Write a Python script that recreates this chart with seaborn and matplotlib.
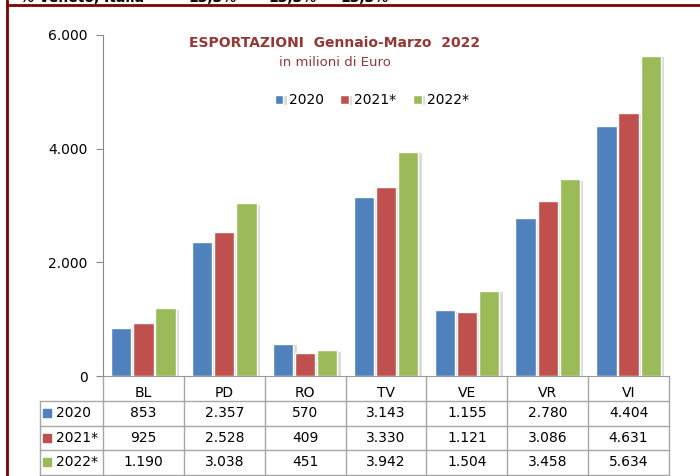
import matplotlib
matplotlib.use("Agg")
import matplotlib.pyplot as plt
import matplotlib.patheffects as pe
from matplotlib.ticker import FuncFormatter
import pandas as pd
import seaborn as sns

# Dati
province = ["BL", "PD", "RO", "TV", "VE", "VR", "VI"]
anni = ["2020", "2021*", "2022*"]
export_2020 = [853, 2357, 570, 3143, 1155, 2780, 4404]
export_2021 = [925, 2528, 409, 3330, 1121, 3086, 4631]
export_2022 = [1190, 3038, 451, 3942, 1504, 3458, 5634]
colori = ["#4F81BD", "#C0504D", "#9BBB59"]

serie = [export_2020, export_2021, export_2022]
df = pd.DataFrame({
    "provincia": province * 3,
    "anno": [a for a in anni for _ in province],
    "valore": export_2020 + export_2021 + export_2022,
})


def fmt_it(v):
    return f"{v:,.0f}".replace(",", ".")


W, H = 700, 476
sns.set_style("white")
plt.rcParams["font.family"] = ["DejaVu Sans"]
plt.rcParams["text.color"] = "black"
plt.rcParams["xtick.color"] = "black"
plt.rcParams["ytick.color"] = "black"

fig = plt.figure(figsize=(W / 100, H / 100), dpi=100)
ax = fig.add_axes([103 / W, 1 - 376 / H, 566 / W, 341 / H])

sns.barplot(data=df, x="provincia", y="valore", hue="anno", order=province,
            hue_order=anni, palette=colori, width=0.82, gap=0.08, ax=ax,
            saturation=1, legend=True)

for bar in ax.patches:
    bar.set_path_effects([pe.SimplePatchShadow(offset=(2.5, -1), shadow_rgbFace="#999999", alpha=0.35),
                          pe.Normal()])

ax.set_xlim(-0.5, 6.5)
ax.set_ylim(0, 6000)
ax.set_yticks([0, 2000, 4000, 6000])
ax.yaxis.set_major_formatter(FuncFormatter(lambda v, p: fmt_it(v)))
ax.set_xlabel("")
ax.set_ylabel("")
ax.tick_params(axis="y", length=5, color="#888888", labelcolor="black", labelsize=10, pad=6,
               direction="out", left=True)
ax.tick_params(axis="x", length=0, labelcolor="black", labelsize=10, pad=7)
for s in ["top", "right"]:
    ax.spines[s].set_visible(False)
ax.spines["left"].set_color("#888888")
ax.spines["bottom"].set_color("#999999")

# Titolo
tc = "#953735"
fig.text(335 / W, 1 - 43 / H, "ESPORTAZIONI  Gennaio-Marzo  2022", ha="center", va="center",
         fontsize=10, fontweight="bold", color=tc)
fig.text(335 / W, 1 - 62 / H, "in milioni di Euro", ha="center", va="center", fontsize=9.5, color=tc)

# Legenda
handles, labels = ax.get_legend_handles_labels()
ax.legend(handles, labels, loc="center", bbox_to_anchor=((372 - 103) / 566, (376 - 100) / 341),
          ncol=3, frameon=False, fontsize=10, handlelength=0.6, handleheight=0.6,
          handletextpad=0.4, columnspacing=1.2)

# Tabella dati sotto il grafico
gc = "#A6A6A6"


def ay(py):
    return (376 - py) / 341


def axx(px):
    return (px - 103) / 566


righe = [400.5, 425.5, 450, 475]
for py in righe:
    ax.plot([axx(40), 1], [ay(py), ay(py)], color=gc, lw=1, transform=ax.transAxes, clip_on=False)
ax.plot([1, 1], [0, ay(476)], color=gc, lw=1, transform=ax.transAxes, clip_on=False)
ax.plot([axx(40), axx(40)], [ay(400.5), ay(476)], color=gc, lw=1, transform=ax.transAxes, clip_on=False)
for i in range(7):
    ax.plot([i / 7, i / 7], [0, ay(476)], color=gc, lw=1, transform=ax.transAxes, clip_on=False)

centri = [413, 437.5, 462]
for r, (anno, vals, col) in enumerate(zip(anni, serie, colori)):
    yy = ay(centri[r])
    ax.scatter([axx(47)], [yy], marker="s", s=30, color=col, transform=ax.transAxes, clip_on=False)
    ax.text(axx(56), yy, anno, ha="left", va="center", fontsize=10, transform=ax.transAxes)
    for i, v in enumerate(vals):
        ax.text((i + 0.5) / 7, yy, fmt_it(v), ha="center", va="center", fontsize=10,
                transform=ax.transAxes)

# Cornice e riga tagliata in alto (come nell'originale, il testo e' tagliato dal bordo)
bc = "#7F0000"
fig.add_artist(plt.Line2D([7 / W, 1], [1 - 5 / H, 1 - 5 / H], color=bc, lw=2))
fig.add_artist(plt.Line2D([7 / W, 7 / W], [0, 1], color=bc, lw=2))
for x, t in [(20, "% Veneto, Italia"), (188, "13,3%"), (268, "13,3%"), (340, "13,3%")]:
    fig.text(x / W, 1 - 2 / H, t, ha="left", va="baseline", fontsize=10, fontweight="bold")

fig.savefig("out.png", dpi=100)
